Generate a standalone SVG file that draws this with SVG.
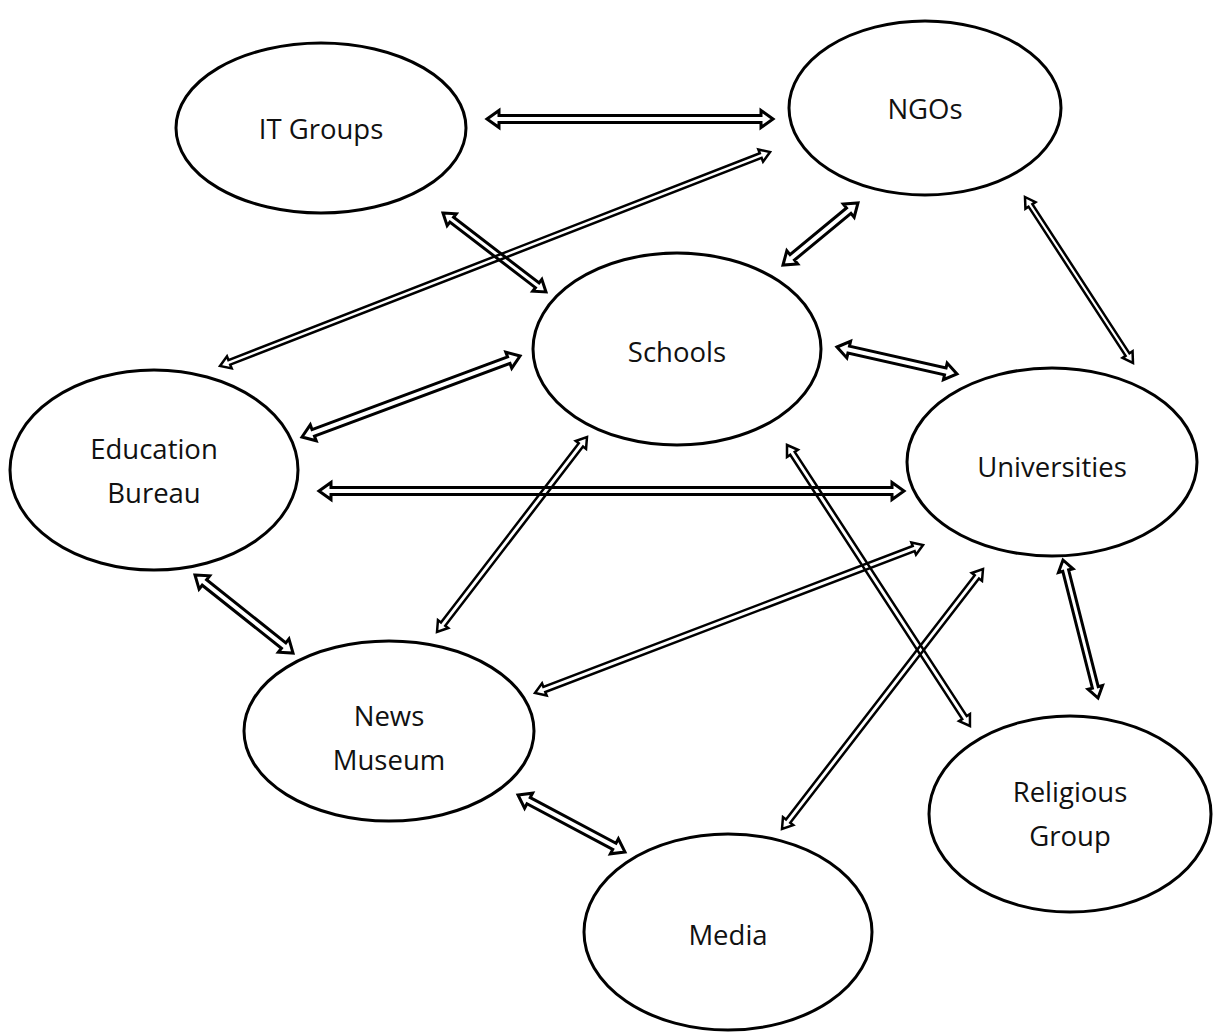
<svg xmlns="http://www.w3.org/2000/svg" width="1214" height="1033" viewBox="0 0 1214 1033">
<style>
.node ellipse{fill:#fff;stroke:#000;stroke-width:3}
.node text{font-family:"Open Sans","Liberation Sans",sans-serif;font-size:27.5px;fill:#111;text-anchor:middle;dominant-baseline:central}
.thick{fill:none;stroke:#000;stroke-width:3;stroke-linejoin:miter}
.thin{fill:none;stroke:#000;stroke-width:2.5;stroke-linejoin:miter}
</style>
<rect width="1214" height="1033" fill="#fff"/>
<g id="n-it" class="node"><ellipse cx="321" cy="128" rx="145" ry="85"/><text x="321" y="128">IT Groups</text></g>
<g id="n-ngo" class="node"><ellipse cx="925" cy="108" rx="136" ry="87"/><text x="925" y="108">NGOs</text></g>
<g id="n-schools" class="node"><ellipse cx="677" cy="349" rx="144" ry="96"/><text x="677" y="351">Schools</text></g>
<g id="n-edu" class="node"><ellipse cx="154" cy="470" rx="144" ry="100"/><text x="154" y="448">Education</text><text x="154" y="492">Bureau</text></g>
<g id="n-uni" class="node"><ellipse cx="1052" cy="462" rx="145" ry="94"/><text x="1052" y="466">Universities</text></g>
<g id="n-news" class="node"><ellipse cx="389" cy="731" rx="145" ry="90"/><text x="389" y="715">News</text><text x="389" y="759">Museum</text></g>
<g id="n-rel" class="node"><ellipse cx="1070" cy="814" rx="141" ry="98"/><text x="1070" y="791">Religious</text><text x="1070" y="835">Group</text></g>
<g id="n-media" class="node"><ellipse cx="728" cy="932" rx="144" ry="98"/><text x="728" y="934">Media</text></g>
<g id="connectors">
<g transform="translate(487,119)"><path class="thick" d="M0,0 L12,-8.5 L12,-3.5 L274,-3.5 L274,-8.5 L286,0 L274,8.5 L274,3.5 L12,3.5 L12,8.5 Z"/></g>
<g transform="translate(220,366) rotate(-21.26)"><path class="thin" d="M0,0 L10,-6.5 L10,-2.5 L580.2,-2.5 L580.2,-6.5 L590.2,0 L580.2,6.5 L580.2,2.5 L10,2.5 L10,6.5 Z"/></g>
<g transform="translate(443,213) rotate(37.49)"><path class="thick" d="M0,0 L11,-7.5 L11,-3 L118.8,-3 L118.8,-7.5 L129.8,0 L118.8,7.5 L118.8,3 L11,3 L11,7.5 Z"/></g>
<g transform="translate(783,265) rotate(-39.58)"><path class="thick" d="M0,0 L12,-8.5 L12,-3.5 L85.3,-3.5 L85.3,-8.5 L97.3,0 L85.3,8.5 L85.3,3.5 L12,3.5 L12,8.5 Z"/></g>
<g transform="translate(302,437) rotate(-20.38)"><path class="thick" d="M0,0 L12,-8.5 L12,-3.5 L220.6,-3.5 L220.6,-8.5 L232.6,0 L220.6,8.5 L220.6,3.5 L12,3.5 L12,8.5 Z"/></g>
<g transform="translate(837,347) rotate(12.68)"><path class="thick" d="M0,0 L12,-8.5 L12,-3.5 L111,-3.5 L111,-8.5 L123,0 L111,8.5 L111,3.5 L12,3.5 L12,8.5 Z"/></g>
<g transform="translate(1025,197) rotate(56.95)"><path class="thin" d="M0,0 L10,-6 L10,-2.3 L188,-2.3 L188,-6 L198,0 L188,6 L188,2.3 L10,2.3 L10,6 Z"/></g>
<g transform="translate(319,491)"><path class="thick" d="M0,0 L12,-8.5 L12,-3.5 L573,-3.5 L573,-8.5 L585,0 L573,8.5 L573,3.5 L12,3.5 L12,8.5 Z"/></g>
<g transform="translate(195,575) rotate(38.52)"><path class="thick" d="M0,0 L12,-8.5 L12,-3.5 L113.3,-3.5 L113.3,-8.5 L125.3,0 L113.3,8.5 L113.3,3.5 L12,3.5 L12,8.5 Z"/></g>
<g transform="translate(437,632) rotate(-52.43)"><path class="thin" d="M0,0 L10,-6.5 L10,-2.7 L236,-2.7 L236,-6.5 L246,0 L236,6.5 L236,2.7 L10,2.7 L10,6.5 Z"/></g>
<g transform="translate(787,445) rotate(56.93)"><path class="thin" d="M0,0 L10,-6.5 L10,-2.7 L325.3,-2.7 L325.3,-6.5 L335.3,0 L325.3,6.5 L325.3,2.7 L10,2.7 L10,6.5 Z"/></g>
<g transform="translate(535,693) rotate(-20.88)"><path class="thin" d="M0,0 L10,-6.5 L10,-2.7 L405.3,-2.7 L405.3,-6.5 L415.3,0 L405.3,6.5 L405.3,2.7 L10,2.7 L10,6.5 Z"/></g>
<g transform="translate(782,829) rotate(-52.29)"><path class="thin" d="M0,0 L10,-6.5 L10,-2.7 L318.6,-2.7 L318.6,-6.5 L328.6,0 L318.6,6.5 L318.6,2.7 L10,2.7 L10,6.5 Z"/></g>
<g transform="translate(1063,560) rotate(75.77)"><path class="thick" d="M0,0 L11,-7.5 L11,-3 L131.4,-3 L131.4,-7.5 L142.4,0 L131.4,7.5 L131.4,3 L11,3 L11,7.5 Z"/></g>
<g transform="translate(518,795) rotate(28.05)"><path class="thick" d="M0,0 L12,-8.5 L12,-3.5 L109.2,-3.5 L109.2,-8.5 L121.2,0 L109.2,8.5 L109.2,3.5 L12,3.5 L12,8.5 Z"/></g>
</g>
</svg>
